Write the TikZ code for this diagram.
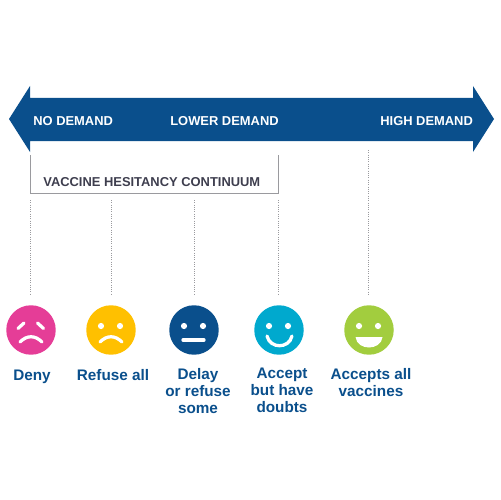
\documentclass[tikz,border=0pt]{standalone}
\usepackage{fontspec}
\setmainfont{Liberation Sans}
\usetikzlibrary{positioning}
\definecolor{darkblue}{HTML}{0A4F8C}
\definecolor{pinkface}{HTML}{E53D97}
\definecolor{yellowface}{HTML}{FFC000}
\definecolor{tealface}{HTML}{00A9CE}
\definecolor{greenface}{HTML}{A2CD3E}
\definecolor{bracketgray}{HTML}{9A9A9E}
\definecolor{titlegray}{HTML}{3E3E4E}
\tikzset{
  face/.style={shape=circle,fill=#1,minimum size=0.99cm,inner sep=0pt},
  caption/.style={align=center,text=darkblue,font=\fontsize{8.7}{9.64}\selectfont\bfseries,execute at begin node={\rule{0pt}{7pt}}},
  level/.style={text=white,inner sep=0pt,font=\fontsize{7.35}{9}\selectfont\bfseries},
  guide/.style={densely dotted,bracketgray,line width=0.3pt,shorten >=0.2cm},
  facemark/.style={white,line width=0.065cm,line cap=round},
}
\begin{document}
\begin{tikzpicture}[x=0.02cm,y=-0.02cm]
\useasboundingbox (0,0) rectangle (500,500);

% the long arrow
\fill[darkblue] (9,119) -- (30,86) -- (30,98) -- (473,98) -- (473,86) -- (494,119) -- (473,152) -- (473,141) -- (30,141) -- (30,152) -- cycle;
\node[level,right] (N) at (33,121.5) {NO DEMAND};
\node[level,right] (L) at (170,121.5) {LOWER DEMAND};
\node[level,right] (H) at (380,121.5) {HIGH DEMAND};

% bracket
\draw[bracketgray,line width=0.5pt] (30,155) -- (30,193) -- (278,193) -- (278,155);
\node[right,inner sep=0pt,text=titlegray,font=\fontsize{7.35}{9}\selectfont\bfseries] (V) at (43,182.5) {VACCINE HESITANCY CONTINUUM};

% faces
\node[face=pinkface] (P) at (31,330) {};
\node[face=yellowface] (Y) at (111,330) {};
\node[face=darkblue] (B) at (194,330) {};
\node[face=tealface] (C) at (279,330) {};
\node[face=greenface] (G) at (369,330) {};

% dotted lines
\coordinate (p) at (30,200);
\coordinate (y) at (111,200);
\coordinate (b) at (194,200);
\coordinate (c) at (278,200);
\coordinate (g) at (368.5,150);
\draw[guide] (p) -- (p |- P.north);
\draw[guide] (y) -- (Y);
\draw[guide] (b) -- (B);
\draw[guide] (c) -- (c |- C.north);
\draw[guide] (g) -- (g |- G.north);

% eyes and mouths
\draw[facemark] (18,328.5) -- (24,323);
\draw[facemark] (37.5,323) -- (43.5,328.5);
\draw[facemark] (20,342) .. controls (27,335) and (35,335) .. (42,342);
\fill[white] (101,326) circle (3.1);
\fill[white] (120,326) circle (3.1);
\draw[facemark] (100,342) .. controls (107,335) and (115,335) .. (122,342);
\fill[white] (184,326) circle (3.1);
\fill[white] (203,326) circle (3.1);
\draw[facemark] (183,340) -- (204,340);
\fill[white] (269,326) circle (3.1);
\fill[white] (288,326) circle (3.1);
\draw[facemark] (267,336) .. controls (270,349) and (289,349) .. (292,336);
\fill[white] (359,326) circle (3.1);
\fill[white] (378,326) circle (3.1);
\fill[white] (355.5,337) -- (382.5,337) .. controls (381,351) and (357,351) .. (355.5,337) -- cycle;

% captions
\node[caption,anchor=north] (d1) at (32,362) {Deny};
\node[caption,anchor=north] (d2) at (113,362) {Refuse all};
\node[caption,anchor=north] (d3) at (198,362) {Delay\\or refuse\\some};
\node[caption,anchor=north] (d4) at (282,362) {Accept\\but have\\doubts};
\node[caption,anchor=north] (d5) at (371,362) {Accepts all\\vaccines};
\end{tikzpicture}
\end{document}
